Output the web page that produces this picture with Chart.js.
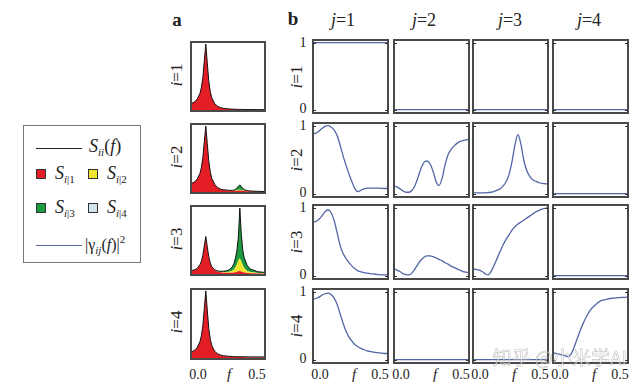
<!DOCTYPE html>
<html>
<head>
<meta charset="utf-8">
<script src="https://cdn.jsdelivr.net/npm/chart.js@4.4.1/dist/chart.umd.min.js"></script>
<style>
  body { margin: 0; background: #fff; }
  #fig { position: relative; width: 644px; height: 390px; overflow: hidden; font-family: "Liberation Serif", "DejaVu Serif", serif; color: #222; }
  #fig canvas { position: absolute; }
  .lbl { position: absolute; white-space: nowrap; line-height: 1; transform: translate(-50%, -50%); }
  .legend { position: absolute; left: 23px; top: 125px; width: 118px; height: 138px; border: 1px solid #777; box-sizing: border-box; }
  .legend .lbl { transform: translate(0, -50%); }
  .sw { position: absolute; width: 10px; height: 10px; box-sizing: border-box; border: 1px solid #333; }
  .ln { position: absolute; height: 0; }
  sub { font-size: 11px; vertical-align: -4px; }
  sup { font-size: 11px; vertical-align: 7px; }
</style>
</head>
<body>
<div id="fig"></div>
<script>
// frequency grids
const specFreq = [0, 0.02, 0.04, 0.06, 0.07, 0.08, 0.09, 0.1, 0.11, 0.12, 0.13, 0.14,
  0.16, 0.18, 0.2, 0.22, 0.24, 0.26, 0.28, 0.29, 0.3, 0.31, 0.32, 0.33, 0.34, 0.35, 0.36,
  0.38, 0.4, 0.45, 0.5];
const cohFreq = [0, 0.02, 0.04, 0.06, 0.08, 0.1, 0.12, 0.14, 0.16, 0.18, 0.2, 0.22, 0.24,
  0.26, 0.28, 0.3, 0.32, 0.34, 0.36, 0.38, 0.4, 0.42, 0.44, 0.46, 0.48, 0.5];
const flatFreq = [0, 0.5];

// panel a: spectrum S_ii(f) split into contributions S_i|1 .. S_i|4 (normalised)
const s1Red = [0.11, 0.13, 0.17, 0.26, 0.35, 0.5, 0.75, 1.0, 0.72, 0.45, 0.29, 0.2,
  0.11, 0.07, 0.05, 0.04, 0.035, 0.03, 0.028, 0.027, 0.026, 0.025, 0.025, 0.024, 0.024, 0.023, 0.023,
  0.022, 0.021, 0.02, 0.02];

const s2Red = [0.14, 0.16, 0.2, 0.29, 0.38, 0.53, 0.77, 1.0, 0.74, 0.48, 0.32, 0.22,
  0.13, 0.08, 0.055, 0.045, 0.04, 0.035, 0.032, 0.032, 0.033, 0.035, 0.037, 0.038, 0.036, 0.033, 0.03,
  0.027, 0.025, 0.022, 0.02];
const s2Yellow = [0, 0, 0, 0, 0, 0, 0, 0, 0, 0, 0, 0,
  0, 0, 0.001, 0.001, 0.002, 0.002, 0.003, 0.004, 0.005, 0.008, 0.01, 0.012, 0.01, 0.007, 0.005,
  0.003, 0.002, 0.001, 0.001];
const s2Green = [0, 0, 0, 0, 0, 0, 0, 0, 0, 0, 0, 0,
  0, 0.001, 0.001, 0.002, 0.002, 0.003, 0.005, 0.008, 0.015, 0.03, 0.055, 0.07, 0.05, 0.028, 0.015,
  0.006, 0.003, 0.002, 0.001];

const s3Red = [0.06, 0.07, 0.09, 0.15, 0.2, 0.29, 0.43, 0.57, 0.42, 0.27, 0.18, 0.12,
  0.07, 0.05, 0.04, 0.035, 0.033, 0.033, 0.035, 0.038, 0.042, 0.048, 0.055, 0.06, 0.052, 0.045, 0.038,
  0.03, 0.026, 0.022, 0.02];
const s3Yellow = [0.002, 0.002, 0.002, 0.002, 0.002, 0.002, 0.002, 0.002, 0.002, 0.002, 0.002, 0.003,
  0.003, 0.004, 0.005, 0.007, 0.01, 0.015, 0.03, 0.045, 0.07, 0.11, 0.16, 0.19, 0.15, 0.1, 0.065,
  0.03, 0.018, 0.008, 0.005];
const s3Green = [0.002, 0.002, 0.002, 0.002, 0.002, 0.002, 0.003, 0.003, 0.003, 0.003, 0.003, 0.004,
  0.005, 0.007, 0.01, 0.015, 0.02, 0.03, 0.06, 0.09, 0.14, 0.2, 0.35, 0.75, 0.4, 0.22, 0.15,
  0.08, 0.045, 0.02, 0.012];

const s4Red = [0.1, 0.12, 0.16, 0.25, 0.34, 0.49, 0.74, 1.0, 0.72, 0.45, 0.29, 0.2,
  0.11, 0.075, 0.055, 0.045, 0.04, 0.036, 0.033, 0.032, 0.031, 0.03, 0.03, 0.029, 0.029, 0.028, 0.028,
  0.027, 0.026, 0.025, 0.024];
const s4Blue = [0.002, 0.002, 0.002, 0.002, 0.002, 0.002, 0.002, 0.002, 0.002, 0.002, 0.002, 0.002,
  0.003, 0.003, 0.003, 0.003, 0.004, 0.004, 0.004, 0.004, 0.004, 0.005, 0.005, 0.005, 0.005, 0.005, 0.005,
  0.005, 0.005, 0.006, 0.006];

// panel b: squared coherence |gamma_ij(f)|^2
const coh11 = [1, 1];
const coh12 = [0, 0];
const coh13 = [0, 0];
const coh14 = [0, 0];
const coh21 = [0.88, 0.89, 0.92, 0.96, 0.99, 1.0, 0.98, 0.94, 0.86, 0.72, 0.56, 0.42, 0.29,
  0.17, 0.07, 0.03, 0.05, 0.07, 0.08, 0.08, 0.08, 0.08, 0.08, 0.077, 0.075, 0.075];
const coh22 = [0.11, 0.1, 0.07, 0.04, 0.02, 0.02, 0.05, 0.12, 0.24, 0.37, 0.46, 0.48, 0.44,
  0.33, 0.18, 0.12, 0.22, 0.42, 0.57, 0.65, 0.7, 0.74, 0.77, 0.78, 0.79, 0.8];
const coh23 = [0.01, 0.01, 0.01, 0.01, 0.01, 0.015, 0.02, 0.03, 0.05, 0.07, 0.11, 0.17, 0.28,
  0.47, 0.72, 0.87, 0.72, 0.48, 0.33, 0.25, 0.2, 0.18, 0.16, 0.15, 0.145, 0.14];
const coh24 = [0, 0];
const coh31 = [0.79, 0.8, 0.83, 0.88, 0.94, 0.97, 0.93, 0.82, 0.64, 0.45, 0.33, 0.25, 0.19,
  0.14, 0.1, 0.07, 0.055, 0.045, 0.035, 0.03, 0.025, 0.02, 0.015, 0.012, 0.01, 0.01];
const coh32 = [0.1, 0.08, 0.06, 0.03, 0.015, 0.01, 0.04, 0.1, 0.17, 0.23, 0.27, 0.29, 0.29,
  0.28, 0.26, 0.24, 0.22, 0.19, 0.17, 0.14, 0.12, 0.1, 0.08, 0.06, 0.05, 0.04];
const coh33 = [0.1, 0.09, 0.08, 0.06, 0.03, 0.01, 0.06, 0.15, 0.25, 0.35, 0.45, 0.53, 0.6,
  0.67, 0.72, 0.76, 0.79, 0.82, 0.85, 0.88, 0.91, 0.94, 0.96, 0.98, 0.99, 1.0];
const coh34 = [0, 0];
const coh41 = [0.89, 0.9, 0.92, 0.95, 0.97, 0.98, 0.96, 0.91, 0.82, 0.68, 0.54, 0.42, 0.33,
  0.27, 0.22, 0.19, 0.165, 0.145, 0.13, 0.12, 0.11, 0.105, 0.1, 0.095, 0.09, 0.09];
const coh42 = [0, 0];
const coh43 = [0, 0];
const coh44 = [0.1, 0.09, 0.08, 0.07, 0.06, 0.04, 0.08, 0.18, 0.3, 0.42, 0.53, 0.62, 0.7,
  0.76, 0.8, 0.84, 0.87, 0.88, 0.89, 0.9, 0.905, 0.91, 0.913, 0.916, 0.918, 0.92];

const rowLabels = ['1', '2', '3', '4'];
const colLabels = ['1', '2', '3', '4'];

const RED = '#e31e24';
const YELLOW = '#f3e52e';
const GREEN = '#1c9a3f';
const LIGHTBLUE = '#cfe6ee';
const COH_BLUE = '#5266a5';

const specRows = [
  [[s1Red, RED]],
  [[s2Red, RED], [s2Yellow, YELLOW], [s2Green, GREEN]],
  [[s3Red, RED], [s3Yellow, YELLOW], [s3Green, GREEN]],
  [[s4Red, RED], [s4Blue, LIGHTBLUE]],
];
const cohGrid = [
  [coh11, coh12, coh13, coh14],
  [coh21, coh22, coh23, coh24],
  [coh31, coh32, coh33, coh34],
  [coh41, coh42, coh43, coh44],
];

// layout (pixels)
const aLeft = 191, aWidth = 74;
const aRows = [[42, 69], [124, 69], [206, 69], [289, 70]];
const bCols = [313, 394, 473, 553];
const bWidth = 75;
const bRows = [[40, 73], [123, 74], [205, 74], [289, 74]];

const fig = document.getElementById('fig');

const framePlugin = {
  id: 'frame',
  afterDraw(chart) {
    const { ctx, chartArea: a } = chart;
    ctx.save();
    ctx.strokeStyle = '#4a4a4a';
    ctx.lineWidth = 2;
    ctx.strokeRect(a.left, a.top, a.right - a.left, a.bottom - a.top);
    const marks = chart.options.plugins.frame.marks || [];
    ctx.lineWidth = 1;
    ctx.strokeStyle = '#333';
    marks.forEach((v) => {
      const y = Math.round(chart.scales.y.getPixelForValue(v)) + 0.5;
      ctx.beginPath();
      ctx.moveTo(a.left, y); ctx.lineTo(a.left + 3, y);
      ctx.moveTo(a.right, y); ctx.lineTo(a.right - 3, y);
      ctx.stroke();
    });
    ctx.restore();
  }
};

function makeCanvas(left, top, w, h) {
  const c = document.createElement('canvas');
  c.width = w + 2;
  c.height = h + 2;
  c.style.left = (left - 1) + 'px';
  c.style.top = (top - 1) + 'px';
  c.style.width = (w + 2) + 'px';
  c.style.height = (h + 2) + 'px';
  fig.appendChild(c);
  return c;
}

function baseOptions(ymin, ymax, marks) {
  return {
    responsive: false,
    animation: false,
    events: [],
    layout: { padding: 1 },
    plugins: {
      legend: { display: false },
      tooltip: { enabled: false },
      filler: { drawTime: 'beforeDatasetsDraw' },
      frame: { marks },
    },
    scales: {
      x: { type: 'linear', min: 0, max: 0.5, display: false },
      y: { min: ymin, max: ymax, display: false, stacked: true },
    },
  };
}

function spectrumChart(canvas, layers) {
  const datasets = layers.map(([vals, color], k) => ({
    data: specFreq.map((f, n) => ({ x: f, y: vals[n] })),
    backgroundColor: color,
    borderColor: k === layers.length - 1 ? '#111' : 'rgba(0,0,0,0)',
    borderWidth: k === layers.length - 1 ? 1 : 0,
    pointRadius: 0,
    tension: 0,
    fill: k === 0 ? 'origin' : '-1',
  }));
  new Chart(canvas, {
    type: 'line',
    data: { datasets },
    options: baseOptions(0, 1.03, []),
    plugins: [framePlugin],
  });
}

function coherenceChart(canvas, vals) {
  const fx = vals.length === flatFreq.length ? flatFreq : cohFreq;
  const opts = baseOptions(-0.05, 1.04, [0, 1]);
  opts.scales.y.stacked = false;
  new Chart(canvas, {
    type: 'line',
    data: {
      datasets: [{
        data: fx.map((f, n) => ({ x: f, y: vals[n] })),
        borderColor: COH_BLUE,
        borderWidth: 1.3,
        pointRadius: 0,
        cubicInterpolationMode: 'monotone',
        fill: false,
      }]
    },
    options: opts,
    plugins: [framePlugin],
  });
}

function label(html, x, y, size, extra) {
  const d = document.createElement('div');
  d.className = 'lbl';
  d.innerHTML = html;
  d.style.left = x + 'px';
  d.style.top = y + 'px';
  d.style.fontSize = size + 'px';
  if (extra) Object.assign(d.style, extra);
  fig.appendChild(d);
  return d;
}

// panel a
specRows.forEach((layers, r) => {
  const [top, h] = aRows[r];
  spectrumChart(makeCanvas(aLeft, top, aWidth, h), layers);
  label(`<i>i</i>=${rowLabels[r]}`, 176, top + h / 2 - 2, 17, { transform: 'translate(-50%,-50%) rotate(-90deg)' });
});

// panel b
cohGrid.forEach((row, r) => {
  const [top, h] = bRows[r];
  row.forEach((vals, c) => {
    coherenceChart(makeCanvas(bCols[c], top, bWidth, h), vals);
  });
  label(`<i>i</i>=${rowLabels[r]}`, 296, top + h / 2, 17, { transform: 'translate(-50%,-50%) rotate(-90deg)' });
  label('1', 303, top + 3, 14);
  label('0', 303, top + h - 4, 14);
});

const colCenters = [343, 424, 510, 589];
colLabels.forEach((t, c) => label(`<i>j</i>=${t}`, colCenters[c], 20, 18));

label('<b>a</b>', 177, 19, 19);
label('<b>b</b>', 293, 18, 19);

// x axis labels
label('0.0', aLeft + 7, 375, 14);
label('<i>f</i>', aLeft + 38, 374, 15);
label('0.5', aLeft + aWidth - 8, 375, 14);
bCols.forEach((x0) => {
  label('0.0', x0 + 7, 375, 14);
  label('<i>f</i>', x0 + 41, 374, 15);
  label('0.5', x0 + bWidth - 8, 375, 14);
});

// legend (positions relative to the legend box)
const leg = document.createElement('div');
leg.className = 'legend';
leg.innerHTML = `
  <div class="ln" style="left:12px;top:22px;width:46px;border-top:1.4px solid #222"></div>
  <div class="lbl" style="left:65px;top:21px;font-size:18px"><i>S</i><sub><i>ii</i></sub>(<i>f</i>)</div>
  <div class="sw" style="left:12px;top:43px;background:${RED}"></div>
  <div class="lbl" style="left:31px;top:48px;font-size:18px"><i>S</i><sub><i>i</i>|1</sub></div>
  <div class="sw" style="left:64px;top:43px;background:${YELLOW}"></div>
  <div class="lbl" style="left:83px;top:48px;font-size:18px"><i>S</i><sub><i>i</i>|2</sub></div>
  <div class="sw" style="left:12px;top:77px;background:${GREEN}"></div>
  <div class="lbl" style="left:31px;top:82px;font-size:18px"><i>S</i><sub><i>i</i>|3</sub></div>
  <div class="sw" style="left:64px;top:77px;background:${LIGHTBLUE}"></div>
  <div class="lbl" style="left:83px;top:82px;font-size:18px"><i>S</i><sub><i>i</i>|4</sub></div>
  <div class="ln" style="left:12px;top:119px;width:46px;border-top:1.4px solid ${COH_BLUE}"></div>
  <div class="lbl" style="left:61px;top:119px;font-size:16px">|γ<sub><i>ij</i></sub>(<i>f</i>)|<sup>2</sup></div>
`;
fig.appendChild(leg);

// watermark
label('知乎 @小米学AI', 560, 356, 19, {
  fontFamily: '"Noto Sans CJK SC", sans-serif',
  color: 'rgba(255,255,255,0.55)',
  webkitTextStroke: '0.6px rgba(120,120,120,0.45)',
});
</script>
</body>
</html>
